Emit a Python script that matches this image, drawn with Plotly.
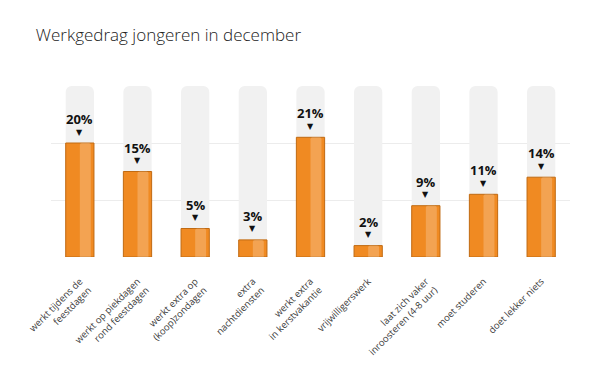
import plotly.graph_objects as go

categories = [
    "werkt tijdens de<br>feestdagen",
    "werkt op piekdagen<br>rond feestdagen",
    "werkt extra op<br>(koop)zondagen",
    "extra<br>nachtdiensten",
    "werkt extra<br>in kerstvakantie",
    "vrijwilligerswerk",
    "laat zich vaker<br>inroosteren (4-8 uur)",
    "moet studeren",
    "doet lekker niets",
]
values = [20, 15, 5, 3, 21, 2, 9, 11, 14]
max_scale = 30
gridlines = [0, 10, 20]

x = list(range(len(categories)))

fig = go.Figure()
# grey background columns
fig.add_trace(go.Bar(
    x=x, y=[max_scale] * len(values), width=0.49,
    marker=dict(color="#f1f1f1", line=dict(width=0), cornerradius=6),
    hoverinfo="skip", showlegend=False,
))
# orange bars
fig.add_trace(go.Bar(
    x=x, y=values, width=0.49,
    marker=dict(color="#f08a22", line=dict(color="#c06a12", width=1), cornerradius=5),
    showlegend=False,
))
# light highlight stripe on right half
fig.add_trace(go.Bar(
    x=x, y=values, width=0.19, offset=0.0,
    marker=dict(color="rgba(255,255,255,0.22)", line=dict(width=0), cornerradius=2),
    hoverinfo="skip", showlegend=False,
))

annotations = []
for xi, v in zip(x, values):
    annotations.append(dict(
        x=xi, y=v, xref="x", yref="y", text=f"<b>{v}%</b>", showarrow=False,
        yanchor="middle", yshift=24,
        font=dict(family="Open Sans", size=13, color="#111111"),
    ))
    annotations.append(dict(
        x=xi, y=v, xref="x", yref="y", text="▼", showarrow=False,
        yanchor="middle", yshift=11,
        font=dict(family="DejaVu Sans", size=8, color="#111111"),
    ))

fig.update_layout(
    width=592, height=363,
    margin=dict(l=43, r=30, t=78, b=114),
    paper_bgcolor="white", plot_bgcolor="white",
    barmode="overlay",
    title=dict(
        text="Werkgedrag jongeren in december",
        x=0.047, xanchor="left", y=0.926, yanchor="middle",
        font=dict(family="Open Sans", size=17, color="#222222", weight=300),
    ),
    xaxis=dict(
        tickmode="array", tickvals=x, ticktext=categories,
        tickangle=-45, range=[-0.5, len(values) - 0.5], automargin=False,
        showgrid=False, zeroline=False, showline=False, ticks="",
        ticklabelstandoff=16,
        tickfont=dict(family="Open Sans", size=9.5, color="#3a3a3a"),
    ),
    yaxis=dict(
        range=[0, max_scale], tickvals=gridlines, showticklabels=False,
        automargin=False,
        showgrid=True, gridcolor="#ececec", gridwidth=1,
        zeroline=False, showline=False,
    ),
    annotations=annotations,
)

fig.write_html("out.html")
